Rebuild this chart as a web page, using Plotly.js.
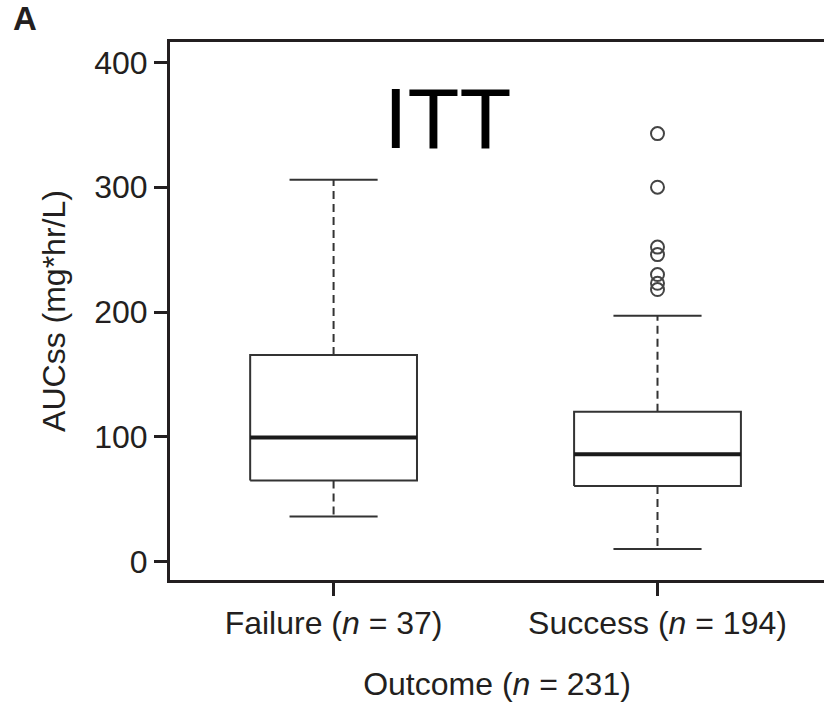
<!DOCTYPE html>
<html>
<head>
<meta charset="utf-8">
<script src="https://cdn.plot.ly/plotly-3.0.1.min.js"></script>
<style>
  html, body { margin: 0; padding: 0; background: #ffffff; }
  #chart { width: 824px; height: 704px; }
</style>
</head>
<body>
<div id="chart"></div>
<script>
// AUCss by treatment outcome (ITT population)
const groups = ['Failure', 'Success'];
const tickLabels = ['Failure (<i>n</i> = 37)', 'Success (<i>n</i> = 194)'];
const lowerWhisker = [36, 10];
const q1 = [65, 60.5];
const median = [99.5, 86];
const q3 = [165.5, 120];
const upperWhisker = [306, 197];
const successOutliers = [343, 300, 252, 246, 230, 223, 218];

const ink = '#231f20';
const boxColor = '#333333';
const boxHalf = 0.2575;   // half box width, in category units
const capHalf = 0.136;    // half whisker-cap width

const traces = [];
groups.forEach((g, i) => {
  const base = { type: 'scatter', mode: 'lines', hoverinfo: 'skip', showlegend: false };
  // whiskers (dashed)
  traces.push(Object.assign({}, base, {
    x: [i, i, null, i, i],
    y: [q3[i], upperWhisker[i], null, q1[i], lowerWhisker[i]],
    line: { color: boxColor, width: 2, dash: '8px,5px' }
  }));
  // whisker caps
  traces.push(Object.assign({}, base, {
    x: [i - capHalf, i + capHalf, null, i - capHalf, i + capHalf],
    y: [upperWhisker[i], upperWhisker[i], null, lowerWhisker[i], lowerWhisker[i]],
    line: { color: boxColor, width: 2 }
  }));
  // interquartile box
  traces.push(Object.assign({}, base, {
    x: [i - boxHalf, i + boxHalf, i + boxHalf, i - boxHalf, i - boxHalf],
    y: [q1[i], q1[i], q3[i], q3[i], q1[i]],
    line: { color: boxColor, width: 2 }
  }));
  // median
  traces.push(Object.assign({}, base, {
    x: [i - boxHalf, i + boxHalf],
    y: [median[i], median[i]],
    line: { color: '#1a1a1a', width: 4 }
  }));
});

// outlying values in the Success group
traces.push({
  type: 'scatter', mode: 'markers', hoverinfo: 'skip', showlegend: false,
  x: successOutliers.map(() => 1),
  y: successOutliers,
  marker: { symbol: 'circle-open', size: 13, color: '#444444', line: { width: 2, color: '#444444' } }
});

const fontFamily = 'Liberation Sans, Arial, Helvetica, sans-serif';

const layout = {
  width: 824, height: 704,
  margin: { l: 170, r: 0, t: 42, b: 124 },
  paper_bgcolor: '#ffffff', plot_bgcolor: '#ffffff',
  font: { family: fontFamily, size: 32, color: ink },
  xaxis: {
    range: [-0.505, 1.514],
    tickvals: [0, 1], ticktext: tickLabels,
    showgrid: false, zeroline: false,
    showline: true, linecolor: ink, linewidth: 3, mirror: true,
    ticks: 'outside', ticklen: 13, tickwidth: 3, tickcolor: ink,
    tickfont: { size: 32, color: ink },
    title: { text: 'Outcome (<i>n</i> = 231)', font: { size: 32, color: ink }, standoff: 33 },
    fixedrange: true
  },
  yaxis: {
    range: [-14.8, 416.4],
    tickvals: [0, 100, 200, 300, 400],
    showgrid: false, zeroline: false,
    showline: true, linecolor: ink, linewidth: 3,
    ticks: 'outside', ticklen: 13, tickwidth: 3, tickcolor: ink,
    tickfont: { size: 32, color: ink },
    title: { text: 'AUCss (mg*hr/L)', font: { size: 32, color: ink }, standoff: 20 },
    fixedrange: true
  },
  annotations: [
    {
      text: 'ITT', xref: 'paper', yref: 'paper', x: 0.425, y: 0.857,
      xanchor: 'center', yanchor: 'middle', showarrow: false,
      font: { family: fontFamily, size: 85, color: '#000000' }
    },
    {
      text: '<b>A</b>', xref: 'paper', yref: 'paper', x: -0.222, y: 1.0437,
      xanchor: 'center', yanchor: 'middle', showarrow: false,
      font: { family: fontFamily, size: 33, color: ink }
    }
  ]
};

Plotly.newPlot('chart', traces, layout, { displayModeBar: false, staticPlot: true });
</script>
</body>
</html>
